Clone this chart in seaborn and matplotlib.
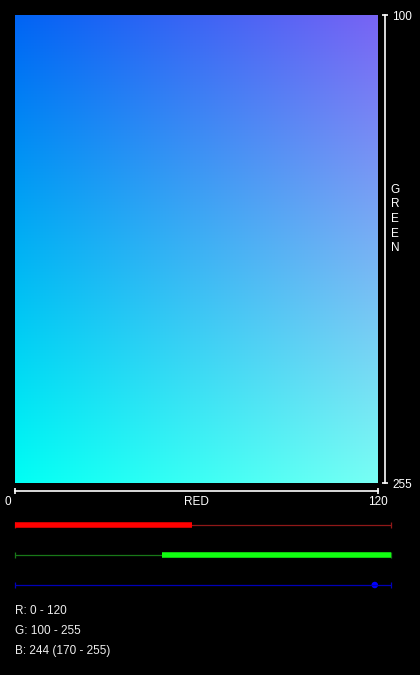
import numpy as np
import matplotlib
matplotlib.use("Agg")
import matplotlib.pyplot as plt
import matplotlib.transforms as mtransforms
import seaborn as sns

# colour picker state
red_range = [0, 120]
green_range = [100, 255]
blue_value = 244
blue_range = [170, 255]
channel_max = 255

W, H = 420, 675

sns.set_theme(style="dark", rc={
    "figure.facecolor": "black",
    "axes.facecolor": "black",
    "savefig.facecolor": "black",
    "text.color": "white",
    "xtick.color": "white",
    "ytick.color": "white",
    "axes.edgecolor": "white",
})
plt.rcParams["font.family"] = ["Liberation Sans", "DejaVu Sans"]
FS = 8.5


def px_box(left, top, right, bottom):
    return [left / W, 1 - bottom / H, (right - left) / W, (bottom - top) / H]


fig = plt.figure(figsize=(W / 100, H / 100), dpi=100)

# gradient field: red across, green down, blue fixed
ax = fig.add_axes(px_box(15, 15, 378, 483))
reds = np.linspace(red_range[0], red_range[1], 256)
greens = np.linspace(green_range[0], green_range[1], 256)
rr, gg = np.meshgrid(reds, greens)
img = np.dstack([rr, gg, np.full_like(rr, blue_value)]) / channel_max
ax.imshow(img, extent=[red_range[0], red_range[1], green_range[1], green_range[0]],
          aspect="auto", interpolation="bilinear")
ax.set_xlim(red_range[0], red_range[1])
ax.set_ylim(green_range[1], green_range[0])
ax.grid(False)

ax.yaxis.tick_right()
for side in ["top", "left"]:
    ax.spines[side].set_visible(False)
ax.spines["right"].set_position(("outward", 5))
ax.spines["bottom"].set_position(("outward", 6))
for side in ["right", "bottom"]:
    ax.spines[side].set_color("white")
    ax.spines[side].set_linewidth(1.2)
ax.set_xticks(red_range)
ax.set_yticks(green_range)
ax.tick_params(axis="x", direction="inout", length=4.3, width=1.2, pad=1,
               labelsize=FS, colors="white", bottom=True)
ax.tick_params(axis="y", direction="inout", length=4.3, width=1.2, pad=3,
               labelsize=FS, colors="white", right=True, left=False)
lbl0 = ax.get_xticklabels()[0]
lbl0.set_transform(lbl0.get_transform() + mtransforms.ScaledTranslation(-0.07, 0, fig.dpi_scale_trans))

fig.text(196.5 / W, 1 - 502 / H, "RED", ha="center", va="center", fontsize=FS, color="white")
fig.text(395 / W, 1 - 219 / H, "\n".join("GREEN"), ha="center", va="center",
         fontsize=FS, color="white", linespacing=1.3)

# channel sliders
sx = fig.add_axes(px_box(15, 510, 391, 600))
sx.set_xlim(0, channel_max)
sx.set_ylim(2.5, -0.5)
sx.axis("off")

tracks = [("#901818", "#ff0000"), ("#187818", "#11ff11"), ("#0000b8", "#0000ff")]
for row, (dim, bright) in enumerate(tracks):
    sns.lineplot(x=[0, channel_max], y=[row, row], color=dim, linewidth=0.9, ax=sx)
    sx.plot([0, channel_max], [row, row], linestyle="none", marker="|",
            markersize=5, markeredgewidth=0.9, color=dim, clip_on=False)

sns.lineplot(x=red_range, y=[0, 0], color=tracks[0][1], linewidth=4,
             solid_capstyle="butt", ax=sx)
sns.lineplot(x=green_range, y=[1, 1], color=tracks[1][1], linewidth=4,
             solid_capstyle="butt", ax=sx)
sns.scatterplot(x=[blue_value], y=[2], color=tracks[2][1], s=22, edgecolor="none", ax=sx)

# readout
lines = [
    f"R: {red_range[0]} - {red_range[1]}",
    f"G: {green_range[0]} - {green_range[1]}",
    f"B: {blue_value} ({blue_range[0]} - {blue_range[1]})",
]
for i, txt in enumerate(lines):
    fig.text(15 / W, 1 - (610.7 + 20 * i) / H, txt, ha="left", va="center",
             fontsize=FS, color="#eeeeee")

fig.savefig("out.png", dpi=100)
